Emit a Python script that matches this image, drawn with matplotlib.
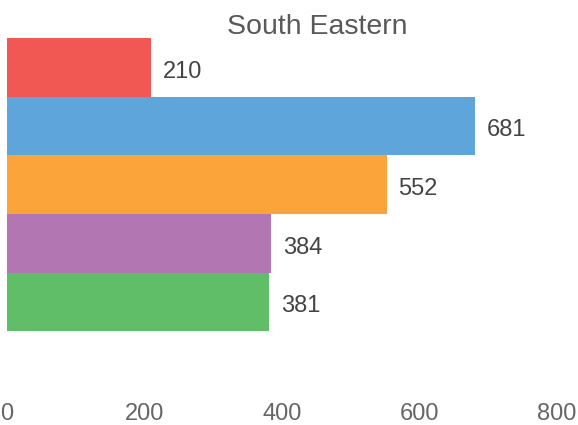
import matplotlib
matplotlib.use('Agg')
import matplotlib.pyplot as plt

# DATA
categories = ['A', 'B', 'C', 'D', 'E']
values = [210, 681, 552, 384, 381]
colors = ['#F15854', '#5DA5DA', '#FAA43A', '#B276B2', '#60BD68']
xticks = [0, 200, 400, 600, 800]

plt.rcParams['font.family'] = ['Liberation Sans', 'DejaVu Sans']

W, H = 578, 425
fig = plt.figure(figsize=(W / 100, H / 100), dpi=100)
ax = fig.add_axes([7 / W, 1 - 390 / H, 550 / W, 352 / H])

pos = list(range(len(values)))
ax.barh(pos, values, height=1.0, color=colors)
ax.set_ylim(5.5, -0.5)
ax.set_xlim(0, 800)

for p, v in zip(pos, values):
    ax.annotate(str(v), (v, p), xytext=(8.5, -3), textcoords='offset points',
                va='center', ha='left', fontsize=17, color='#444444')

ax.set_xticks(xticks)
ax.set_xticklabels([str(t) for t in xticks], fontsize=17, color='#666666')
ax.set_yticks([])
ax.tick_params(axis='x', length=0, pad=9.5)
for s in ax.spines.values():
    s.set_visible(False)

fig.text(317 / W, 1 - 27.5 / H, 'South Eastern', ha='center', va='center',
         fontsize=20.5, color='#595959')

fig.savefig('out.png', dpi=100)
